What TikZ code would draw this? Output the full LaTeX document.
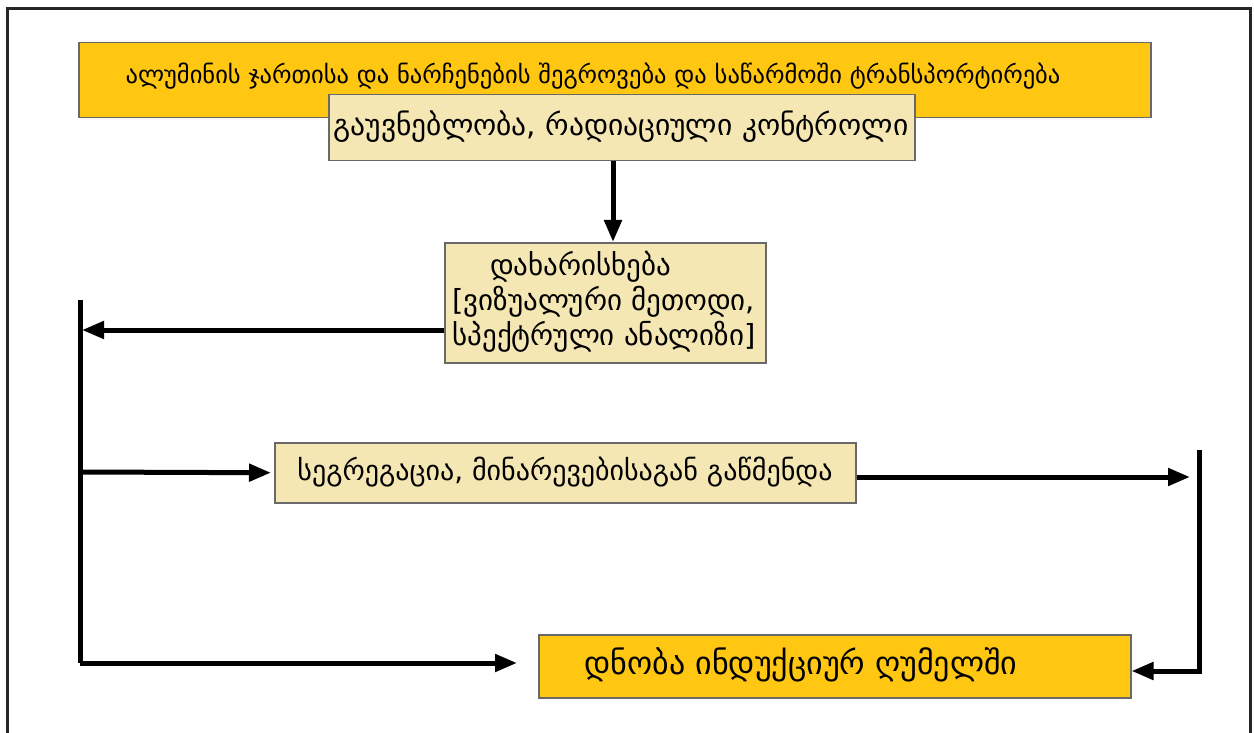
\documentclass[tikz,border=0pt]{standalone}
\usepackage{fontspec}
\setmainfont{DejaVu Sans}
\usetikzlibrary{arrows.meta}
\definecolor{gold}{RGB}{255,198,18}
\definecolor{beige}{RGB}{245,231,180}
\definecolor{edgegray}{RGB}{105,105,105}
\tikzset{
  x=1pt, y=-1pt,
  box/.style={draw=edgegray, line width=1.5pt, inner sep=0pt, anchor=north west},
  conn/.style={line width=5pt, black, line join=miter},
  arr/.style={conn, -{Triangle[length=22pt,width=17pt]}},
  lbl/.style={inner sep=0pt, text=black},
}
\begin{document}
\begin{tikzpicture}
\useasboundingbox (0,0) rectangle (1254,733);
\fill[white] (0,0) rectangle (1254,733);
\draw[line width=3pt, black!85] (7,733) -- (7,9) -- (1250,9) -- (1250,733);

% boxes
\node[box, fill=gold,  minimum width=1072pt, minimum height=75pt] (banner) at (78,42) {};
\node[box, fill=beige, minimum width=586pt,  minimum height=66pt] (b2) at (328,94) {};
\node[box, fill=beige, minimum width=321pt,  minimum height=120pt] (b3) at (444,242) {};
\node[box, fill=beige, minimum width=581pt,  minimum height=60pt] (b4) at (274,442) {};
\node[box, fill=gold,  minimum width=592pt,  minimum height=63pt] (b5) at (538,634) {};

% texts
\node[lbl, font=\fontsize{24.5}{28}\selectfont] (t1) at (593,76) {ალუმინის ჯართისა და ნარჩენების შეგროვება და საწარმოში ტრანსპორტირება};
\node[lbl, font=\fontsize{29.5}{34}\selectfont] (t2) at (621,127) {გაუვნებლობა, რადიაციული კონტროლი};
\node[lbl, font=\fontsize{29}{35}\selectfont, align=left] (t3) at (604,302) {\hspace*{1.3em}დახარისხება\\{}[ვიზუალური მეთოდი,\\სპექტრული ანალიზი]};
\node[lbl, font=\fontsize{28}{30}\selectfont] (t4) at (565,472) {სეგრეგაცია, მინარევებისაგან გაწმენდა};
\node[lbl, font=\fontsize{32}{36}\selectfont] (t5) at (801,665) {დნობა ინდუქციურ ღუმელში};

% connector helpers
\coordinate (dn) at (613,0);
\coordinate (lt) at (80,300);
\coordinate (lb) at (80,663);
\coordinate (la) at (82,330);
\coordinate (lm) at (80,472);
\coordinate (rt) at (1199,450);
\coordinate (rb) at (1199,671);
\coordinate (ra) at (1190,477);

% connectors
\draw[arr] (b2.south -| dn) -- (b3.north -| dn);
\draw[arr] (b3.west |- la) -- (la);
\draw[conn] (lt) -- (lb);
\draw[arr, shorten >=3pt] (lm) -- (b4.west);
\draw[arr, shorten >=21pt] (lb) -- (b5.west |- lb);
\draw[arr] (b4.east |- ra) -- (ra);
\draw[arr] (rt) -- (rb) -- (b5.east |- rb);
\end{tikzpicture}
\end{document}
